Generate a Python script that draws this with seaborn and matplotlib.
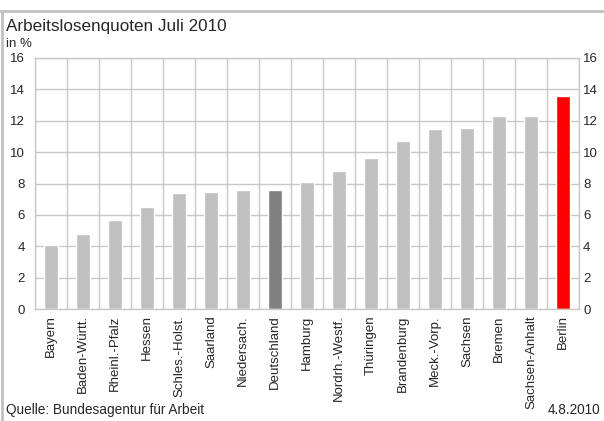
import numpy as np
import pandas as pd
import seaborn as sns
import matplotlib.pyplot as plt
from matplotlib.lines import Line2D

# Arbeitslosenquoten Juli 2010 in %
laender = ['Bayern', 'Baden-Württ.', 'Rheinl.-Pfalz', 'Hessen', 'Schles.-Holst.',
           'Saarland', 'Niedersach.', 'Deutschland', 'Hamburg', 'Nordrh.-Westf.',
           'Thüringen', 'Brandenburg', 'Meck.-Vorp.', 'Sachsen', 'Bremen',
           'Sachsen-Anhalt', 'Berlin']
quoten = [4.1, 4.8, 5.7, 6.5, 7.4, 7.45, 7.6, 7.6, 8.1, 8.8,
          9.6, 10.7, 11.5, 11.55, 12.3, 12.3, 13.6]
y_ticks = [0, 2, 4, 6, 8, 10, 12, 14, 16]

farben = {}
for land in laender:
    farben[land] = '#c0c0c0'
farben['Deutschland'] = '#808080'
farben['Berlin'] = '#ff0000'

df = pd.DataFrame({'Land': laender, 'Quote': quoten})

sns.set_style('white')
plt.rcParams['font.family'] = ['Liberation Sans', 'DejaVu Sans']

fig = plt.figure(figsize=(6.04, 4.21), dpi=100)
ax = fig.add_axes([35 / 604, 1 - 309 / 421, 544 / 604, 251 / 421])

sns.barplot(data=df, x='Land', y='Quote', hue='Land', palette=farben,
            width=0.43, legend=False, ax=ax, saturation=1)

grid_col = '#c8c8c8'
ax.set_xlim(-0.5, len(laender) - 0.5)
ax.set_ylim(0, 16)
ax.set_yticks(y_ticks)
ax.set_xticks(np.arange(-0.5, len(laender)), minor=True)
ax.grid(True, axis='y', color=grid_col, lw=1)
ax.grid(True, axis='x', which='minor', color=grid_col, lw=1)
ax.set_axisbelow(True)
for s in ax.spines.values():
    s.set_color(grid_col)
    s.set_linewidth(1)

ax.set_xlabel('')
ax.set_ylabel('')
ax.tick_params(axis='x', which='both', length=0, labelsize=9.5, pad=4.5, rotation=90)
ax.tick_params(axis='y', length=0, labelsize=9.5, pad=7.5)

# zweite Skala rechts
ax2 = ax.twinx()
ax2.set_ylim(ax.get_ylim())
ax2.set_yticks(y_ticks)
ax2.tick_params(axis='y', length=0, labelsize=9.5, pad=3)
for s in ax2.spines.values():
    s.set_visible(False)

# Rahmen oben und links
fig.add_artist(Line2D([0, 1], [1 - 10.5 / 421] * 2, color='#c0c0c0', lw=2,
                      transform=fig.transFigure))
fig.add_artist(Line2D([2 / 604] * 2, [0, 1 - 10.5 / 421], color='#c0c0c0', lw=2,
                      transform=fig.transFigure))

fig.text(6 / 604, 1 - 31 / 421, 'Arbeitslosenquoten Juli 2010', fontsize=12.3,
         va='baseline', ha='left')
fig.text(6 / 604, 1 - 47 / 421, 'in %', fontsize=9.5, va='baseline', ha='left')
fig.text(6 / 604, 1 - 414 / 421, 'Quelle: Bundesagentur für Arbeit', fontsize=9.8,
         va='baseline', ha='left')
fig.text(600 / 604, 1 - 414 / 421, '4.8.2010', fontsize=9.8,
         va='baseline', ha='right')

fig.savefig('out.png', dpi=100)
